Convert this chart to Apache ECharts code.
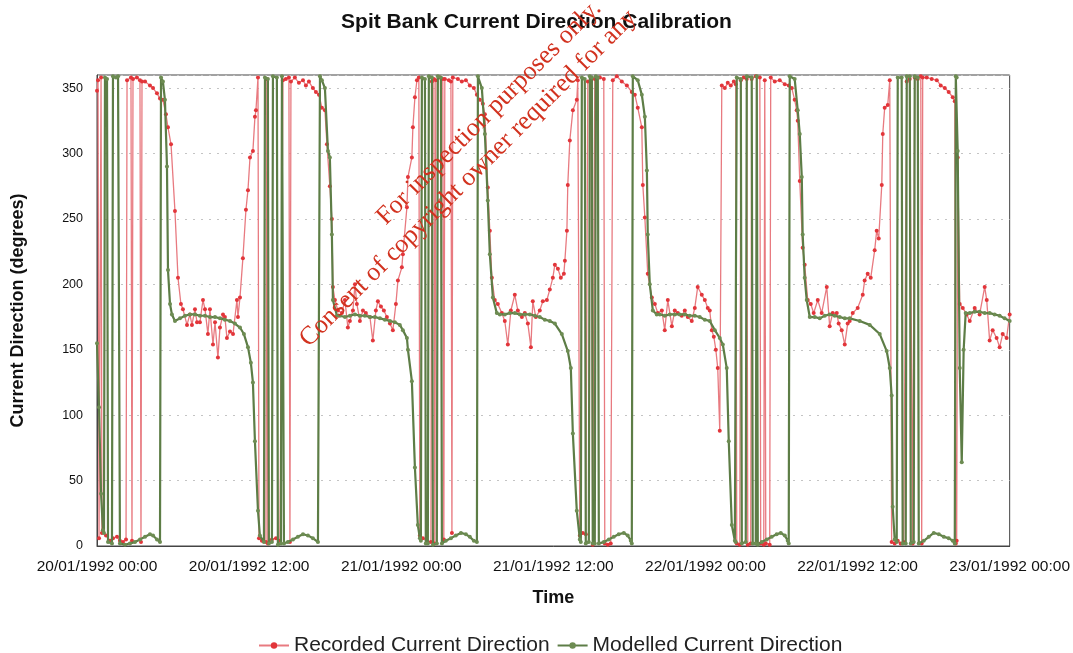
<!DOCTYPE html>
<html><head><meta charset="utf-8">
<script src="https://cdn.jsdelivr.net/npm/echarts@6/dist/echarts.min.js"></script>
<style>html,body{margin:0;padding:0;background:#fff}#c{width:1073px;height:653px}</style>
</head><body><div id="c"></div>
<script>
// x-axis tick labels (every 12 hours from 20/01/1992 00:00)
const tickLabels = ['20/01/1992 00:00','20/01/1992 12:00','21/01/1992 00:00','21/01/1992 12:00','22/01/1992 00:00','22/01/1992 12:00','23/01/1992 00:00'];
const yTicks = [0,50,100,150,200,250,300,350];

// [hours since 20/01/1992 00:00, direction in degrees]
const recorded = [
[0,348],[0.08,356],[0.16,6],[0.32,358],[0.39,10],[0.47,12],[0.71,8],[1.03,4],[1.26,6],[1.58,7],[1.81,4],[2.05,3],[2.29,5],[2.37,356],[2.68,358],[2.76,4],[2.84,357],[3.15,358],[3.39,356],[3.47,3],[3.55,355],[3.79,355],[4.18,352],[4.42,350],[4.73,346],[4.97,342],[5.2,341],[5.44,330],[5.6,320],[5.84,307],[6.15,256],[6.39,205],[6.62,185],[6.78,181],[7.1,169],[7.33,177],[7.49,169],[7.73,181],[7.89,171],[8.12,171],[8.36,188],[8.52,181],[8.75,162],[8.91,181],[9.15,154],[9.31,171],[9.54,144],[9.7,167],[9.94,177],[10.09,175],[10.25,159],[10.49,164],[10.73,162],[11.04,188],[11.12,175],[11.28,190],[11.51,220],[11.75,257],[11.91,272],[12.07,297],[12.3,302],[12.46,328],[12.54,333],[12.7,358],
[12.78,6],[13.01,4],[13.33,3],[13.4,357],[13.48,2],[13.8,5],[14.12,6],[14.43,4],[14.67,356],[14.9,357],[15.14,358],[15.22,3],[15.3,355],[15.61,358],[15.93,354],[16.25,356],[16.48,352],[16.72,355],[17.03,350],[17.27,347],[17.51,345],[17.74,335],[17.98,333],[18.14,307],[18.37,275],[18.53,250],[18.61,198],[18.77,188],[19,180],[19.32,178],[19.56,188],[19.79,167],[19.95,172],[20.19,180],[20.35,200],[20.5,185],[20.74,172],[20.98,180],[21.21,178],[21.53,175],[21.76,157],[22,180],[22.16,187],[22.4,183],[22.63,180],[22.87,175],[23.11,170],[23.34,165],[23.58,185],[23.74,203],[24.05,213],[24.13,223],[24.45,259],[24.53,282],[24.84,297],[24.92,320],[25.08,343],[25.24,356],[25.39,358],
[25.47,8],[25.71,6],[26.02,4],[26.34,3],[26.42,355],[26.58,357],[26.65,2],[26.73,356],[27.05,358],[27.28,357],[27.36,5],[27.44,357],[27.76,356],[27.92,355],[28,10],[28.07,358],[28.47,357],[28.78,355],[29.1,356],[29.41,352],[29.73,350],[29.97,345],[30.2,341],[30.44,338],[30.6,330],[30.83,274],[30.99,241],[31.15,205],[31.38,188],[31.62,185],[31.94,178],[32.17,172],[32.41,154],[32.65,180],[32.96,192],[33.2,180],[33.52,175],[33.75,178],[33.99,170],[34.23,152],[34.38,187],[34.62,175],[34.93,180],[35.17,187],[35.49,188],[35.72,196],[35.96,205],[36.12,215],[36.36,212],[36.59,205],[36.83,208],[36.91,218],[37.07,241],[37.14,276],[37.3,310],[37.54,333],[37.85,341],[37.93,356],
[38.09,8],[38.33,10],[38.56,9],[38.72,355],[38.96,357],[39.11,1],[39.27,357],[39.67,358],[39.98,357],[40.06,2],[40.3,1],[40.53,2],[40.69,356],[41.01,359],[41.4,355],[41.8,352],[42.19,347],[42.43,345],[42.66,335],[42.98,320],[43.06,276],[43.22,251],[43.45,208],[43.77,190],[44.01,185],[44.24,178],[44.56,180],[44.79,165],[45.03,188],[45.35,168],[45.58,180],[45.82,178],[46.13,176],[46.37,180],[46.61,175],[46.92,172],[47.16,182],[47.39,198],[47.71,192],[47.95,188],[48.18,182],[48.34,180],[48.5,165],[48.66,160],[48.82,150],[48.97,136],[49.13,88],
[49.29,352],[49.53,350],[49.76,354],[50,352],[50.24,355],[50.39,353],[50.47,2],[50.71,1],[50.79,356],[51.02,358],[51.26,357],[51.34,1],[51.57,2],[51.65,357],[51.97,359],[52.29,358],[52.36,2],[52.6,1],[52.68,356],[52.76,2],[53.07,1],[53.15,358],[53.47,355],[53.86,356],[54.26,353],[54.57,352],[54.81,350],[55.04,341],[55.2,333],[55.28,325],[55.44,279],[55.67,228],[55.83,215],[56.07,188],[56.31,185],[56.54,178],[56.86,188],[57.17,178],[57.57,198],[57.8,168],[58.04,178],[58.36,178],[58.51,170],[58.75,165],[58.99,154],[59.22,170],[59.38,172],[59.62,178],[60.01,182],[60.41,192],[60.56,203],[60.8,208],[61.04,205],[61.35,226],[61.51,241],[61.67,235],[61.91,276],[61.99,315],[62.14,335],[62.38,337],[62.54,356],
[62.69,3],[62.93,2],[63.17,4],[63.4,2],[63.64,3],[63.88,355],[64.12,357],[64.35,2],[64.51,358],[64.75,357],[64.99,359],[65.06,2],[65.14,358],[65.46,358],[65.85,357],[66.25,356],[66.56,352],[66.88,350],[67.19,347],[67.51,343],[67.67,340],[67.75,2],[67.82,4],[67.9,297],[68.06,185],[68.3,182],[68.61,177],[68.85,172],[69.24,182],[69.63,177],[70.03,198],[70.19,188],[70.42,157],[70.66,165],[70.97,159],[71.21,152],[71.45,162],[71.76,159],[72,177]
];

const modelled = [
[0,155],[0.16,106],[0.32,40],[0.47,12],[0.55,10],[0.63,358],[0.79,357],[0.87,3],[1.18,2],[1.26,359],[1.5,358],[1.66,359],[1.81,2],[2.21,1],[2.6,2],[3,3],[3.39,5],[3.79,7],[4.18,9],[4.42,8],[4.73,5],[4.97,3],[5.05,358],[5.2,355],[5.36,341],[5.52,290],[5.6,211],[5.76,185],[5.91,177],[6.15,172],[6.55,174],[6.94,176],[7.33,177],[7.73,177],[8.12,176],[8.52,176],[8.91,175],[9.31,175],[9.7,174],[10.09,173],[10.49,172],[10.88,170],[11.28,167],[11.59,162],[11.91,152],[12.14,140],[12.3,125],[12.46,80],[12.7,27],[12.85,8],
[13.17,3],[13.25,358],[13.48,357],[13.56,2],[13.8,3],[13.88,359],[14.19,358],[14.27,1],[14.51,2],[14.59,359],[14.75,2],[15.06,3],[15.46,5],[15.85,7],[16.25,9],[16.64,8],[17.03,6],[17.43,3],[17.59,359],[17.74,356],[17.98,350],[18.22,302],[18.37,297],[18.53,238],[18.61,188],[18.93,176],[19.16,176],[19.56,175],[19.95,176],[20.35,177],[20.74,176],[21.13,176],[21.53,175],[21.92,175],[22.32,174],[22.71,173],[23.11,172],[23.5,171],[23.89,169],[24.13,165],[24.45,159],[24.53,150],[24.84,126],[25.08,60],[25.31,16],[25.47,6],
[25.55,4],[25.63,358],[25.87,357],[25.94,2],[26.1,2],[26.18,359],[26.42,358],[26.5,1],[26.81,2],[26.89,359],[27.13,358],[27.21,2],[27.52,4],[27.92,6],[28.31,8],[28.71,10],[29.1,9],[29.41,7],[29.73,4],[29.97,3],[30.05,359],[30.36,350],[30.6,315],[30.83,264],[30.99,223],[31.23,190],[31.54,178],[31.78,177],[32.17,177],[32.57,178],[32.96,178],[33.36,177],[33.75,177],[34.15,177],[34.54,176],[34.93,175],[35.33,173],[35.72,172],[36.12,170],[36.67,162],[37.14,149],[37.38,136],[37.54,86],[37.85,27],[38.09,5],
[38.17,3],[38.25,358],[38.48,357],[38.56,2],[38.8,3],[38.88,359],[39.04,358],[39.11,2],[39.27,2],[39.35,359],[39.51,358],[39.59,2],[39.98,3],[40.38,5],[40.77,7],[41.16,9],[41.56,10],[41.87,8],[42.11,4],[42.19,2],[42.27,359],[42.66,356],[42.98,345],[43.22,328],[43.38,287],[43.45,238],[43.61,200],[43.85,180],[44.16,177],[44.4,177],[44.79,176],[45.19,177],[45.58,177],[45.97,177],[46.37,177],[46.76,176],[47.16,176],[47.55,175],[47.95,173],[48.34,172],[48.74,165],[49.13,159],[49.37,154],[49.68,136],[49.84,80],[50.08,16],[50.32,4],
[50.39,3],[50.47,358],[50.79,357],[50.87,2],[51.18,3],[51.26,359],[51.65,358],[51.73,2],[51.97,2],[52.05,359],[52.13,1],[52.44,3],[52.84,5],[53.23,7],[53.62,9],[53.94,10],[54.26,8],[54.49,4],[54.57,2],[54.65,359],[55.04,357],[55.28,333],[55.44,315],[55.6,282],[55.67,238],[55.83,205],[55.99,188],[56.23,175],[56.62,175],[57.02,174],[57.41,176],[57.8,177],[58.2,176],[58.59,175],[58.99,174],[59.38,174],[60.17,172],[60.96,169],[61.75,162],[62.3,149],[62.54,136],[62.69,115],[62.77,30],[62.93,5],
[63.09,3],[63.17,358],[63.48,358],[63.56,2],[63.8,2],[63.88,359],[64.12,359],[64.2,2],[64.43,3],[64.51,359],[64.75,358],[64.83,2],[65.22,4],[65.62,7],[66.01,10],[66.41,9],[66.8,7],[67.19,6],[67.51,4],[67.67,2],[67.75,359],[67.82,358],[67.9,302],[68.06,136],[68.22,64],[68.37,150],[68.53,178],[68.85,178],[69.24,179],[69.63,179],[70.03,178],[70.42,178],[70.81,177],[71.21,176],[71.6,174],[72,172]
];

const chart = echarts.init(document.getElementById('c'), null, {renderer: 'canvas'});
const font = '"Liberation Sans", Arial, Helvetica, sans-serif';
const wmFont = '26px "Liberation Serif", "DejaVu Serif", serif';
chart.setOption({
  animation: false,
  backgroundColor: '#ffffff',
  textStyle: {fontFamily: font},
  title: {
    text: 'Spit Bank Current Direction Calibration',
    left: 'center', top: 7,
    textStyle: {fontSize: 21, fontWeight: 'bold', color: '#111', fontFamily: font}
  },
  legend: {
    left: 253, top: 630,
    itemWidth: 30, itemHeight: 8, itemGap: 7,
    textStyle: {fontSize: 21, color: '#222', fontFamily: font},
    data: ['Recorded Current Direction', 'Modelled Current Direction']
  },
  grid: {left: 97, right: 63, top: 75, bottom: 107, show: true, borderColor: '#444', borderWidth: 1, backgroundColor: 'transparent'},
  xAxis: {
    type: 'value', min: 0, max: 72, interval: 12,
    name: 'Time', nameLocation: 'middle', nameGap: 43,
    nameTextStyle: {fontSize: 18, fontWeight: 'bold', color: '#111', fontFamily: font},
    axisLine: {show: true, lineStyle: {color: '#444'}},
    axisTick: {show: false},
    splitLine: {show: false},
    axisLabel: {margin: 13, fontSize: 15.5, color: '#111', fontFamily: font,
      formatter: v => tickLabels[Math.round(v / 12)] || ''}
  },
  yAxis: {
    type: 'value', min: 0, max: 360, interval: 50,
    name: 'Current Direction (degrees)', nameLocation: 'middle', nameGap: 70,
    nameTextStyle: {fontSize: 18, fontWeight: 'bold', color: '#111', fontFamily: font},
    axisLine: {show: true, lineStyle: {color: '#444'}},
    axisTick: {show: false},
    splitLine: {show: true, lineStyle: {color: '#c4c4c4', type: [2, 6], width: 1}},
    axisLabel: {margin: 14, fontSize: 12.5, color: '#111', fontFamily: font,
      formatter: v => (yTicks.indexOf(v) >= 0 ? String(v) : '')}
  },
  series: [
    {
      name: 'Recorded Current Direction', type: 'line', data: recorded,
      symbol: 'circle', symbolSize: 4, showAllSymbol: true,
      itemStyle: {color: '#e2353a'},
      lineStyle: {color: '#e87a80', width: 1.3},
      z: 2
    },
    {
      name: 'Modelled Current Direction', type: 'line', data: modelled,
      symbol: 'circle', symbolSize: 4, showAllSymbol: true,
      itemStyle: {color: '#6d8c52'},
      lineStyle: {color: '#5d7d46', width: 2.2},
      z: 3
    }
  ],
  graphic: [
    {type: 'text', x: 390, y: 230, rotation: Math.PI / 4, z: 100,
     style: {text: 'For inspection purposes only.', fill: '#d2321f', font: wmFont, textAlign: 'left', textVerticalAlign: 'bottom'}},
    {type: 'text', x: 313, y: 352, rotation: Math.PI / 4, z: 100,
     style: {text: 'Consent of copyright owner required for any', fill: '#d2321f', font: wmFont, textAlign: 'left', textVerticalAlign: 'bottom'}}
  ]
});
</script>
</body></html>
